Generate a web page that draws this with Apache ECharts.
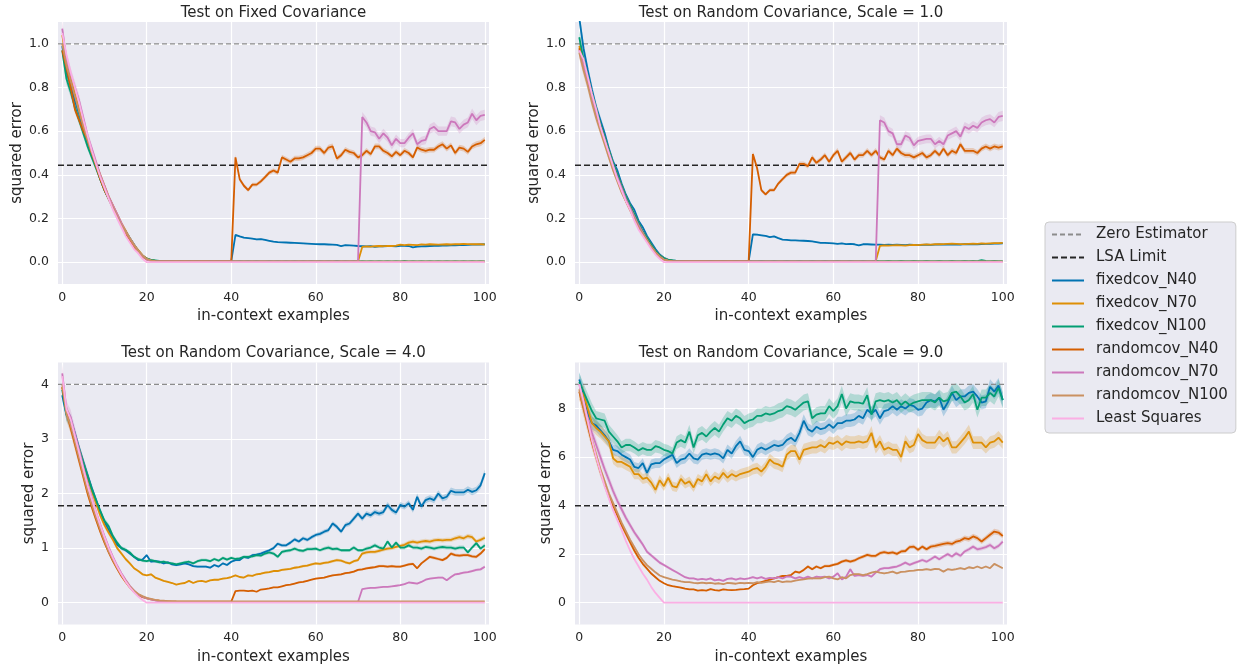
<!DOCTYPE html>
<html><head><meta charset="utf-8">
<script src="https://cdn.jsdelivr.net/npm/echarts@6/dist/echarts.min.js"></script>
<style>html,body{margin:0;padding:0;background:#fff;}#c{width:1242px;height:669px;}</style>
</head><body><div id="c"></div>
<script>
// ---------------- DATA ----------------
const examples = Array.from({length: 101}, (_, i) => i);
const xTicks = [0, 20, 40, 60, 80, 100];
const seriesNames = ['fixedcov_N40','fixedcov_N70','fixedcov_N100','randomcov_N40','randomcov_N70','randomcov_N100','Least Squares'];
const panelTitles = ['Test on Fixed Covariance','Test on Random Covariance, Scale = 1.0','Test on Random Covariance, Scale = 4.0','Test on Random Covariance, Scale = 9.0'];
const zeroEstimator = [1, 1, 4, 9];
const lsaLimit = [0.444, 0.444, 1.777, 4.0];

// Panel 1: Fixed Covariance
const p1_fc40 = [0.99,0.87,0.81,0.74,0.68,0.61,0.55,0.49,0.44,0.38,
0.33,0.29,0.25,0.21,0.17,0.14,0.11,0.08,0.05,0.03,
0.016,0.009,0.006,0.005,0.004,0.004,0.004,0.003,0.004,0.003,
0.003,0.004,0.003,0.003,0.003,0.004,0.003,0.003,0.003,0.003,
0.004,0.125,0.118,0.112,0.11,0.108,0.104,0.106,0.102,0.098,
0.094,0.092,0.091,0.09,0.089,0.088,0.087,0.086,0.085,0.084,
0.083,0.082,0.082,0.081,0.08,0.079,0.074,0.078,0.077,0.076,
0.074,0.073,0.072,0.073,0.07,0.072,0.073,0.074,0.074,0.072,
0.075,0.075,0.074,0.068,0.071,0.072,0.073,0.074,0.075,0.075,
0.076,0.076,0.077,0.077,0.078,0.078,0.079,0.08,0.08,0.081,
0.082];
const p1_fc70 = [1.04,0.93,0.85,0.77,0.70,0.63,0.56,0.50,0.45,0.40,
0.35,0.30,0.26,0.22,0.18,0.145,0.11,0.08,0.055,0.032,
0.017,0.01,0.007,0.005,0.004,0.004,0.003,0.003,0.004,0.003,
0.003,0.003,0.004,0.003,0.003,0.003,0.003,0.004,0.003,0.003,
0.003,0.003,0.003,0.004,0.003,0.003,0.003,0.003,0.004,0.003,
0.003,0.003,0.003,0.003,0.004,0.003,0.003,0.003,0.003,0.004,
0.003,0.003,0.003,0.003,0.003,0.004,0.003,0.003,0.003,0.003,
0.003,0.07,0.072,0.071,0.073,0.074,0.073,0.075,0.074,0.076,
0.08,0.078,0.08,0.079,0.078,0.081,0.08,0.082,0.081,0.08,
0.081,0.082,0.081,0.083,0.082,0.084,0.083,0.082,0.083,0.082,
0.081];
const p1_fc100 = [0.97,0.84,0.78,0.71,0.65,0.59,0.53,0.48,0.43,0.38,
0.33,0.29,0.25,0.21,0.17,0.14,0.11,0.08,0.05,0.03,
0.016,0.01,0.008,0.006,0.005,0.005,0.005,0.004,0.005,0.004,
0.005,0.004,0.005,0.004,0.004,0.005,0.004,0.005,0.004,0.004,
0.005,0.004,0.005,0.004,0.005,0.004,0.005,0.004,0.004,0.005,
0.004,0.005,0.004,0.005,0.004,0.005,0.004,0.005,0.004,0.005,
0.004,0.005,0.004,0.005,0.004,0.006,0.004,0.005,0.004,0.005,
0.004,0.005,0.004,0.005,0.004,0.005,0.004,0.005,0.004,0.005,
0.004,0.006,0.004,0.005,0.004,0.005,0.004,0.005,0.004,0.005,
0.004,0.005,0.004,0.005,0.004,0.005,0.004,0.005,0.004,0.005,
0.004];
const p1_rc40 = [0.97,0.89,0.80,0.70,0.65,0.60,0.56,0.50,0.44,0.38,
0.33,0.29,0.25,0.21,0.17,0.13,0.10,0.07,0.045,0.025,
0.012,0.007,0.005,0.004,0.004,0.003,0.003,0.003,0.003,0.003,
0.003,0.003,0.003,0.003,0.003,0.003,0.003,0.003,0.003,0.003,
0.003,0.48,0.38,0.35,0.33,0.355,0.355,0.37,0.39,0.41,
0.42,0.41,0.48,0.47,0.46,0.475,0.475,0.48,0.49,0.50,
0.52,0.52,0.50,0.525,0.53,0.475,0.49,0.515,0.505,0.50,
0.48,0.49,0.51,0.495,0.53,0.53,0.51,0.50,0.485,0.505,
0.49,0.51,0.50,0.48,0.525,0.515,0.51,0.515,0.515,0.53,
0.54,0.52,0.535,0.50,0.525,0.52,0.505,0.53,0.54,0.545,
0.56];
const p1_rc70 = [1.07,0.93,0.86,0.80,0.74,0.66,0.58,0.52,0.46,0.40,
0.35,0.30,0.26,0.22,0.18,0.14,0.11,0.08,0.05,0.03,
0.012,0.006,0.004,0.003,0.003,0.003,0.003,0.003,0.003,0.003,
0.003,0.003,0.003,0.003,0.003,0.003,0.003,0.003,0.003,0.003,
0.003,0.003,0.003,0.003,0.003,0.003,0.003,0.003,0.003,0.003,
0.003,0.003,0.003,0.003,0.003,0.003,0.003,0.003,0.003,0.003,
0.003,0.003,0.003,0.003,0.003,0.003,0.003,0.003,0.003,0.003,
0.003,0.665,0.64,0.60,0.595,0.565,0.59,0.57,0.535,0.565,
0.545,0.545,0.57,0.59,0.54,0.555,0.56,0.61,0.62,0.60,
0.60,0.60,0.645,0.64,0.61,0.63,0.64,0.68,0.65,0.67,
0.675];
const p1_rc100 = [1.0,0.9,0.83,0.76,0.69,0.62,0.56,0.50,0.45,0.39,
0.34,0.29,0.25,0.21,0.17,0.14,0.11,0.08,0.05,0.03,
0.015,0.008,0.005,0.004,0.003,0.003,0.003,0.003,0.003,0.003,
0.003,0.003,0.003,0.003,0.003,0.003,0.003,0.003,0.003,0.003,
0.003,0.003,0.003,0.003,0.003,0.003,0.003,0.003,0.003,0.003,
0.003,0.003,0.003,0.003,0.003,0.003,0.003,0.003,0.003,0.003,
0.003,0.003,0.003,0.003,0.003,0.003,0.003,0.003,0.003,0.003,
0.003,0.003,0.003,0.003,0.003,0.003,0.003,0.003,0.003,0.003,
0.003,0.003,0.003,0.003,0.003,0.003,0.003,0.003,0.003,0.003,
0.003,0.003,0.003,0.003,0.003,0.003,0.003,0.003,0.003,0.003,
0.003];
const p1_ls = [1.05,0.95,0.87,0.80,0.73,0.65,0.58,0.51,0.45,0.39,
0.34,0.29,0.24,0.20,0.16,0.12,0.09,0.06,0.04,0.015,
0,0,0,0,0,0,0,0,0,0, 0,0,0,0,0,0,0,0,0,0,
0,0,0,0,0,0,0,0,0,0, 0,0,0,0,0,0,0,0,0,0,
0,0,0,0,0,0,0,0,0,0, 0,0,0,0,0,0,0,0,0,0,
0,0,0,0,0,0,0,0,0,0, 0,0,0,0,0,0,0,0,0,0,
0];

// Panel 2: Random Covariance, scale 1
const p2_fc40 = [1.12,0.98,0.88,0.79,0.71,0.65,0.59,0.52,0.46,0.42,
0.36,0.31,0.27,0.24,0.19,0.16,0.12,0.09,0.06,0.035,
0.02,0.012,0.008,0.006,0.005,0.005,0.004,0.004,0.004,0.004,
0.004,0.004,0.004,0.004,0.004,0.004,0.004,0.004,0.004,0.004,
0.004,0.127,0.126,0.123,0.12,0.115,0.118,0.11,0.103,0.102,
0.1,0.1,0.099,0.098,0.097,0.095,0.092,0.088,0.088,0.087,
0.086,0.084,0.086,0.083,0.084,0.082,0.077,0.082,0.082,0.081,
0.08,0.08,0.079,0.08,0.079,0.08,0.079,0.078,0.08,0.079,
0.078,0.079,0.08,0.079,0.08,0.081,0.08,0.081,0.082,0.081,
0.08,0.083,0.082,0.083,0.082,0.083,0.084,0.084,0.085,0.085,
0.086];
const p2_fc70 = [0.99,0.92,0.85,0.77,0.70,0.63,0.57,0.51,0.45,0.40,
0.35,0.30,0.26,0.22,0.18,0.14,0.11,0.08,0.05,0.03,
0.018,0.01,0.007,0.005,0.004,0.004,0.004,0.004,0.004,0.004,
0.004,0.004,0.004,0.004,0.004,0.004,0.004,0.004,0.004,0.004,
0.004,0.004,0.004,0.004,0.004,0.004,0.004,0.004,0.004,0.004,
0.004,0.004,0.004,0.004,0.004,0.004,0.004,0.004,0.004,0.004,
0.004,0.004,0.004,0.004,0.004,0.004,0.004,0.004,0.004,0.004,
0.004,0.075,0.077,0.076,0.077,0.078,0.077,0.076,0.078,0.079,
0.078,0.08,0.081,0.08,0.082,0.082,0.083,0.084,0.085,0.084,
0.083,0.083,0.084,0.085,0.084,0.086,0.085,0.086,0.087,0.087,
0.088];
const p2_fc100 = [1.03,0.93,0.85,0.77,0.70,0.63,0.57,0.51,0.45,0.40,
0.35,0.30,0.26,0.22,0.18,0.14,0.11,0.08,0.05,0.03,
0.018,0.01,0.008,0.006,0.006,0.005,0.005,0.005,0.005,0.005,
0.005,0.006,0.005,0.005,0.006,0.005,0.005,0.006,0.005,0.005,
0.006,0.005,0.005,0.006,0.005,0.005,0.006,0.005,0.005,0.006,
0.005,0.005,0.006,0.005,0.005,0.006,0.005,0.005,0.006,0.005,
0.005,0.006,0.005,0.005,0.006,0.005,0.005,0.006,0.005,0.005,
0.006,0.005,0.005,0.006,0.005,0.005,0.006,0.005,0.005,0.006,
0.005,0.005,0.006,0.005,0.005,0.006,0.005,0.005,0.006,0.005,
0.005,0.006,0.005,0.006,0.005,0.009,0.006,0.005,0.006,0.005,
0.005];
const p2_rc40 = [0.98,0.90,0.83,0.75,0.67,0.61,0.55,0.49,0.43,0.38,
0.33,0.28,0.24,0.20,0.16,0.13,0.10,0.07,0.045,0.025,
0.012,0.007,0.005,0.004,0.004,0.003,0.003,0.003,0.003,0.003,
0.003,0.003,0.003,0.003,0.003,0.003,0.003,0.003,0.003,0.003,
0.003,0.495,0.43,0.33,0.31,0.33,0.33,0.36,0.38,0.40,
0.41,0.41,0.45,0.45,0.44,0.48,0.455,0.47,0.49,0.46,
0.49,0.51,0.46,0.48,0.50,0.47,0.49,0.49,0.51,0.49,
0.51,0.48,0.47,0.51,0.49,0.52,0.50,0.49,0.49,0.48,
0.49,0.50,0.48,0.49,0.51,0.49,0.52,0.49,0.51,0.50,
0.54,0.51,0.51,0.51,0.50,0.52,0.53,0.52,0.53,0.525,
0.53];
const p2_rc70 = [0.97,0.90,0.83,0.75,0.68,0.62,0.56,0.50,0.44,0.39,
0.34,0.29,0.25,0.21,0.17,0.135,0.10,0.07,0.045,0.025,
0.012,0.006,0.004,0.003,0.003,0.003,0.003,0.003,0.003,0.003,
0.003,0.003,0.003,0.003,0.003,0.003,0.003,0.003,0.003,0.003,
0.003,0.003,0.003,0.003,0.003,0.003,0.003,0.003,0.003,0.003,
0.003,0.003,0.003,0.003,0.003,0.003,0.003,0.003,0.003,0.003,
0.003,0.003,0.003,0.003,0.003,0.003,0.003,0.003,0.003,0.003,
0.003,0.65,0.64,0.60,0.59,0.54,0.54,0.58,0.57,0.535,
0.555,0.56,0.565,0.565,0.54,0.555,0.54,0.58,0.59,0.60,
0.575,0.62,0.61,0.625,0.615,0.64,0.65,0.655,0.64,0.665,
0.67];
const p2_rc100 = [0.96,0.88,0.81,0.73,0.66,0.60,0.54,0.48,0.42,0.37,
0.32,0.28,0.24,0.20,0.16,0.13,0.10,0.07,0.045,0.025,
0.012,0.007,0.005,0.004,0.003,0.003,0.003,0.003,0.003,0.003,
0.003,0.003,0.003,0.003,0.003,0.003,0.003,0.003,0.003,0.003,
0.003,0.003,0.003,0.003,0.003,0.003,0.003,0.003,0.003,0.003,
0.003,0.003,0.003,0.003,0.003,0.003,0.003,0.003,0.003,0.003,
0.003,0.003,0.003,0.003,0.003,0.003,0.003,0.003,0.003,0.003,
0.003,0.003,0.003,0.003,0.003,0.003,0.003,0.003,0.003,0.003,
0.003,0.003,0.003,0.003,0.003,0.003,0.003,0.003,0.003,0.003,
0.003,0.003,0.003,0.003,0.003,0.003,0.003,0.003,0.003,0.003,
0.003];
const p2_ls = [0.97,0.93,0.85,0.77,0.70,0.62,0.56,0.50,0.44,0.38,
0.33,0.28,0.24,0.19,0.15,0.12,0.09,0.06,0.035,0.015,
0,0,0,0,0,0,0,0,0,0, 0,0,0,0,0,0,0,0,0,0,
0,0,0,0,0,0,0,0,0,0, 0,0,0,0,0,0,0,0,0,0,
0,0,0,0,0,0,0,0,0,0, 0,0,0,0,0,0,0,0,0,0,
0,0,0,0,0,0,0,0,0,0, 0,0,0,0,0,0,0,0,0,0,
0];

// Panel 3: Random Covariance, scale 4
const p3_fc40 = [3.8,3.44,3.35,3.1,2.83,2.58,2.34,2.1,1.88,1.67,
1.48,1.33,1.18,1.06,1.0,0.96,0.9,0.84,0.78,0.79,
0.87,0.75,0.76,0.75,0.72,0.74,0.7,0.69,0.7,0.72,
0.7,0.67,0.66,0.66,0.66,0.64,0.69,0.66,0.72,0.69,
0.75,0.78,0.78,0.84,0.82,0.87,0.88,0.9,0.93,0.96,
1.0,1.08,1.05,1.05,1.1,1.16,1.12,1.18,1.15,1.2,
1.24,1.26,1.3,1.33,1.45,1.39,1.3,1.42,1.45,1.54,
1.63,1.54,1.63,1.6,1.66,1.63,1.66,1.79,1.7,1.65,
1.79,1.76,1.82,1.7,1.94,1.76,1.88,1.91,1.88,2.0,
1.91,1.94,2.05,2.02,2.02,2.02,2.07,2.03,2.06,2.15,
2.37];
const p3_fc70 = [3.95,3.5,3.3,3.05,2.8,2.55,2.3,2.05,1.82,1.6,
1.42,1.28,1.15,1.0,0.9,0.8,0.72,0.63,0.58,0.52,
0.5,0.52,0.46,0.43,0.4,0.38,0.36,0.33,0.35,0.36,
0.4,0.36,0.39,0.4,0.38,0.41,0.42,0.42,0.44,0.45,
0.47,0.5,0.47,0.46,0.5,0.49,0.52,0.53,0.55,0.56,
0.58,0.58,0.6,0.61,0.62,0.64,0.65,0.67,0.68,0.7,
0.72,0.71,0.73,0.74,0.76,0.78,0.77,0.74,0.72,0.76,
0.78,0.9,0.92,0.93,0.93,0.95,0.97,0.99,1.0,1.02,
1.04,1.06,1.1,1.12,1.1,1.12,1.13,1.12,1.14,1.15,
1.14,1.15,1.15,1.18,1.2,1.18,1.22,1.2,1.12,1.15,
1.19];
const p3_fc100 = [3.9,3.45,3.3,3.05,2.8,2.56,2.32,2.08,1.88,1.68,
1.5,1.4,1.22,1.1,1.0,0.97,0.92,0.84,0.8,0.77,
0.76,0.78,0.76,0.74,0.75,0.73,0.72,0.7,0.72,0.74,
0.75,0.72,0.76,0.78,0.78,0.76,0.8,0.77,0.82,0.79,
0.82,0.8,0.81,0.84,0.84,0.85,0.87,0.86,0.9,0.92,
0.9,0.84,0.93,0.95,0.96,0.99,0.96,0.95,0.98,0.98,
0.99,0.96,0.99,1.01,0.98,0.99,0.96,0.96,0.96,1.01,
0.96,0.96,0.99,1.01,1.05,1.01,0.99,1.12,1.01,1.1,
1.01,1.01,1.05,1.01,1.01,0.99,1.02,1.01,0.99,1.01,
1.02,1.01,1.01,0.99,1.01,1.01,0.92,1.01,1.09,0.99,
1.05];
const p3_rc40 = [3.95,3.5,3.2,2.9,2.6,2.3,2.0,1.75,1.52,1.3,
1.1,0.92,0.76,0.62,0.49,0.38,0.28,0.2,0.14,0.1,
0.08,0.06,0.045,0.035,0.03,0.025,0.02,0.02,0.02,0.02,
0.02,0.02,0.02,0.02,0.02,0.02,0.02,0.02,0.02,0.02,
0.02,0.21,0.22,0.22,0.21,0.22,0.2,0.24,0.25,0.26,
0.28,0.28,0.3,0.32,0.33,0.35,0.37,0.38,0.4,0.42,
0.44,0.45,0.46,0.48,0.5,0.51,0.52,0.54,0.55,0.57,
0.6,0.61,0.63,0.64,0.65,0.67,0.67,0.66,0.67,0.66,
0.66,0.68,0.7,0.71,0.63,0.72,0.78,0.84,0.82,0.8,
0.78,0.82,0.9,0.87,0.86,0.87,0.87,0.85,0.84,0.9,
0.98];
const p3_rc70 = [4.2,3.55,3.4,3.1,2.8,2.48,2.18,1.92,1.66,1.43,
1.22,1.02,0.84,0.68,0.54,0.42,0.31,0.22,0.15,0.11,
0.08,0.06,0.04,0.03,0.025,0.02,0.015,0.012,0.012,0.012,
0.012,0.011,0.012,0.012,0.011,0.012,0.012,0.011,0.012,0.012,
0.011,0.012,0.012,0.011,0.012,0.012,0.011,0.012,0.012,0.011,
0.012,0.012,0.011,0.012,0.012,0.011,0.012,0.012,0.011,0.012,
0.012,0.011,0.012,0.012,0.011,0.012,0.012,0.011,0.012,0.012,
0.012,0.25,0.26,0.27,0.27,0.28,0.29,0.29,0.3,0.31,
0.32,0.34,0.37,0.36,0.35,0.38,0.42,0.44,0.45,0.46,
0.46,0.41,0.47,0.52,0.53,0.55,0.56,0.58,0.6,0.61,
0.66];
const p3_rc100 = [4.0,3.45,3.25,2.95,2.65,2.35,2.05,1.8,1.56,1.34,
1.13,0.94,0.78,0.64,0.51,0.4,0.3,0.22,0.16,0.12,
0.09,0.07,0.05,0.04,0.035,0.03,0.028,0.026,0.025,0.025,
0.025,0.024,0.025,0.025,0.024,0.025,0.025,0.024,0.025,0.025,
0.024,0.025,0.025,0.024,0.025,0.025,0.024,0.025,0.025,0.024,
0.025,0.025,0.024,0.025,0.025,0.024,0.025,0.025,0.024,0.025,
0.025,0.024,0.025,0.025,0.024,0.025,0.025,0.024,0.025,0.025,
0.025,0.024,0.025,0.025,0.024,0.025,0.025,0.024,0.025,0.025,
0.024,0.025,0.025,0.024,0.025,0.025,0.024,0.025,0.025,0.024,
0.025,0.025,0.024,0.025,0.025,0.024,0.025,0.025,0.024,0.025,
0.025];
const p3_ls = [4.15,3.55,3.35,3.05,2.75,2.45,2.15,1.9,1.65,1.42,
1.2,1.0,0.82,0.66,0.52,0.39,0.28,0.19,0.11,0.05,
0,0,0,0,0,0,0,0,0,0, 0,0,0,0,0,0,0,0,0,0,
0,0,0,0,0,0,0,0,0,0, 0,0,0,0,0,0,0,0,0,0,
0,0,0,0,0,0,0,0,0,0, 0,0,0,0,0,0,0,0,0,0,
0,0,0,0,0,0,0,0,0,0, 0,0,0,0,0,0,0,0,0,0,
0];

// Panel 4: Random Covariance, scale 9
const p4_fc40 = [9.2,8.6,7.8,7.4,7.3,7.1,6.9,6.65,6.3,6.25,
6.1,6.0,5.9,5.6,5.55,5.75,5.35,5.7,5.75,5.75,
5.9,6.0,6.1,5.75,5.9,5.95,6.15,5.95,5.9,6.1,
6.15,6.1,6.15,6.1,5.95,6.3,6.15,6.45,6.65,6.3,
6.25,6.0,6.3,6.4,6.3,6.4,6.5,6.45,6.5,6.7,
6.8,6.65,7.0,7.5,7.15,7.05,7.25,7.15,7.2,7.35,
7.2,7.4,7.4,7.5,7.5,7.55,7.7,7.6,7.95,7.8,
7.95,7.6,7.9,7.95,8.1,7.95,8.1,8.0,8.15,8.1,
7.95,8.0,8.25,8.35,8.3,8.45,7.95,8.25,8.65,8.35,
8.5,8.5,8.65,8.7,8.5,8.25,8.3,8.9,8.7,8.95,
8.35];
const p4_fc70 = [8.7,8.6,8.0,7.4,7.2,7.05,6.85,6.65,5.95,5.8,
5.8,5.7,5.6,5.3,5.3,5.1,5.15,4.95,4.65,5.05,
4.8,5.15,4.8,4.75,5.1,4.9,5.0,4.75,5.1,5.0,
5.3,5.0,5.2,5.1,5.35,5.15,5.3,5.2,5.3,5.35,
5.4,5.5,5.55,5.4,5.6,5.9,5.75,5.7,5.6,6.1,
6.25,6.25,5.9,6.3,6.35,6.4,6.4,6.5,6.4,6.6,
6.55,6.65,6.5,6.65,6.6,6.6,6.65,6.6,6.65,7.0,
6.4,6.65,6.3,6.4,6.3,6.3,6.0,6.65,6.4,6.5,
6.95,6.7,6.6,6.6,6.6,6.85,6.65,6.8,6.4,6.4,
6.6,6.8,7.05,6.6,6.6,6.6,6.4,6.6,6.65,6.8,
6.6];
const p4_fc100 = [9.1,8.7,8.3,7.9,7.6,7.55,7.5,7.05,6.85,6.65,
6.4,6.5,6.5,6.4,6.27,6.37,6.3,6.3,6.45,6.4,
6.3,6.25,6.15,6.6,6.7,6.6,7.05,6.4,6.9,7.0,
6.85,7.05,7.2,7.05,7.35,7.6,7.5,7.7,7.6,7.4,
7.5,7.55,7.7,7.7,7.8,7.75,7.8,7.9,7.95,8.1,
8.05,7.95,8.1,8.25,8.3,7.6,7.75,7.8,7.8,8.1,
7.9,8.1,8.6,8.0,8.3,8.25,8.25,8.2,8.55,7.75,
8.3,8.35,8.3,8.35,8.25,8.35,8.15,8.3,8.15,8.25,
8.3,8.35,8.35,8.35,8.25,8.45,8.3,8.35,8.65,8.7,
8.5,8.25,8.35,8.6,7.95,8.45,8.45,8.65,8.5,8.85,
8.35];
const p4_rc40 = [8.7,8.0,7.3,6.6,6.0,5.4,4.9,4.4,4.0,3.6,
3.2,2.85,2.5,2.15,1.85,1.6,1.4,1.2,1.05,0.9,
0.8,0.72,0.68,0.65,0.62,0.58,0.55,0.55,0.5,0.52,
0.5,0.56,0.52,0.5,0.55,0.53,0.52,0.53,0.55,0.56,
0.58,0.72,0.8,0.85,0.9,0.95,1.0,1.05,1.1,1.1,
1.14,1.28,1.24,1.35,1.49,1.38,1.49,1.42,1.51,1.51,
1.56,1.6,1.69,1.74,1.69,1.74,1.83,1.9,1.97,1.93,
1.93,2.04,2.08,2.04,2.07,2.01,2.11,2.13,2.29,2.31,
2.18,2.31,2.2,2.31,2.34,2.38,2.42,2.45,2.42,2.52,
2.56,2.66,2.62,2.73,2.66,2.52,2.66,2.8,2.93,2.89,
2.75];
const p4_rc70 = [9.0,8.3,7.6,7.0,6.5,6.0,5.5,5.05,4.6,4.2,
3.85,3.5,3.2,2.9,2.65,2.4,2.1,1.95,1.8,1.65,
1.55,1.45,1.35,1.25,1.15,1.05,1.0,1.0,0.95,0.98,
0.95,1.0,0.92,0.95,0.9,0.98,1.0,0.95,1.0,0.97,
1.0,1.05,1.0,1.05,0.98,1.02,1.0,1.05,1.0,1.08,
1.07,1.0,1.05,1.0,1.07,1.0,1.07,1.05,1.07,1.0,
1.07,1.21,0.96,1.07,1.38,1.1,1.14,1.1,1.14,1.07,
1.24,1.38,1.42,1.42,1.46,1.49,1.56,1.65,1.56,1.63,
1.69,1.76,1.69,1.79,1.9,1.79,1.9,2.0,1.9,2.04,
1.93,2.11,2.2,2.31,2.2,2.24,2.29,2.38,2.24,2.34,
2.52];
const p4_rc100 = [8.8,8.1,7.4,6.7,6.1,5.5,5.0,4.5,4.1,3.7,
3.3,2.95,2.6,2.3,2.0,1.75,1.55,1.4,1.25,1.12,
1.05,1.0,0.95,0.92,0.88,0.85,0.85,0.82,0.8,0.83,
0.8,0.82,0.78,0.8,0.76,0.82,0.8,0.78,0.82,0.8,
0.82,0.8,0.85,0.82,0.85,0.88,0.85,0.9,0.85,0.88,
0.87,0.91,0.94,0.96,0.99,1.0,1.0,1.0,1.05,1.07,
1.0,0.96,1.05,1.0,1.14,1.18,1.18,1.14,1.18,1.24,
1.28,1.24,1.21,1.24,1.28,1.21,1.27,1.28,1.31,1.32,
1.35,1.35,1.38,1.35,1.39,1.38,1.28,1.38,1.35,1.38,
1.42,1.38,1.46,1.42,1.49,1.42,1.49,1.42,1.6,1.51,
1.42];
const p4_ls = [9.0,8.3,7.5,6.7,6.0,5.4,4.8,4.3,3.8,3.4,
3.0,2.55,2.15,1.8,1.5,1.2,0.95,0.65,0.4,0.2,
0,0,0,0,0,0,0,0,0,0, 0,0,0,0,0,0,0,0,0,0,
0,0,0,0,0,0,0,0,0,0, 0,0,0,0,0,0,0,0,0,0,
0,0,0,0,0,0,0,0,0,0, 0,0,0,0,0,0,0,0,0,0,
0,0,0,0,0,0,0,0,0,0, 0,0,0,0,0,0,0,0,0,0,
0];

// relative half-width of the shaded confidence band, per series
const band_p1 = [0.03, 0.03, 0.03, 0.025, 0.035, 0.03, 0];
const band_p2 = [0.03, 0.03, 0.03, 0.025, 0.035, 0.03, 0];
const band_p3 = [0.03, 0.035, 0.035, 0.035, 0.04, 0.04, 0];
const band_p4 = [0.035, 0.04, 0.04, 0.04, 0.04, 0.03, 0];

// ---------------- CHART ----------------
const panelData = [
  [p1_fc40, p1_fc70, p1_fc100, p1_rc40, p1_rc70, p1_rc100, p1_ls],
  [p2_fc40, p2_fc70, p2_fc100, p2_rc40, p2_rc70, p2_rc100, p2_ls],
  [p3_fc40, p3_fc70, p3_fc100, p3_rc40, p3_rc70, p3_rc100, p3_ls],
  [p4_fc40, p4_fc70, p4_fc100, p4_rc40, p4_rc70, p4_rc100, p4_ls]
];
const panelBands = [band_p1, band_p2, band_p3, band_p4];
const colors = ['#0173b2','#de8f05','#029e73','#d55e00','#cc78bc','#ca9161','#fbafe4'];
const FONT = 'DejaVu Sans';
const TXT = '#262626';
const grids = [
  {left: 58, top: 22, width: 431, height: 262},
  {left: 575, top: 22, width: 432, height: 262},
  {left: 58, top: 362.5, width: 431, height: 262},
  {left: 575, top: 362.5, width: 432, height: 262}
];
const yRange = [[-0.1, 1.1], [-0.1, 1.1], [-0.4, 4.4], [-0.9, 9.9]];
const yStep = [0.2, 0.2, 1, 2];
const yNameGap = [33, 33, 21, 21];

function rgba(hex, a) {
  const n = parseInt(hex.slice(1), 16);
  return 'rgba(' + (n >> 16 & 255) + ',' + (n >> 8 & 255) + ',' + (n & 255) + ',' + a + ')';
}

const xAxes = [], yAxes = [], series = [], graphics = [];
grids.forEach((g, p) => {
  xAxes.push({
    type: 'value', gridIndex: p, min: -1, max: 101, position: 'bottom',
    name: 'in-context examples', nameLocation: 'middle', nameGap: 25,
    nameTextStyle: {fontFamily: FONT, fontSize: 15, color: TXT},
    axisLine: {show: false, onZero: false}, axisTick: {show: false},
    axisLabel: {fontFamily: FONT, fontSize: 12.5, color: TXT, margin: 7,
      formatter: v => (xTicks.indexOf(Math.round(v)) >= 0 && Math.abs(v - Math.round(v)) < 1e-6) ? String(Math.round(v)) : ''},
    splitLine: {show: true, showMinLine: false, showMaxLine: false, lineStyle: {color: '#ffffff', width: 1.2}}
  });
  const st = yStep[p];
  yAxes.push({
    type: 'value', gridIndex: p, min: yRange[p][0], max: yRange[p][1], position: 'left',
    name: 'squared error', nameLocation: 'middle', nameGap: yNameGap[p], nameRotate: 90,
    nameTextStyle: {fontFamily: FONT, fontSize: 15, color: TXT},
    axisLine: {show: false, onZero: false}, axisTick: {show: false},
    axisLabel: {fontFamily: FONT, fontSize: 12.5, color: TXT, margin: 9,
      formatter: v => {
        const r = Math.round(v / st);
        if (Math.abs(v - r * st) > 1e-6 || v < -1e-6) return '';
        return st < 1 ? (r * st).toFixed(1) : String(r * st);
      }},
    splitLine: {show: true, showMinLine: false, showMaxLine: false, lineStyle: {color: '#ffffff', width: 1.2}}
  });
  graphics.push({
    type: 'text', x: g.left + g.width / 2, y: g.top - 9,
    style: {text: panelTitles[p], fontFamily: FONT, fontSize: 15, fill: TXT, align: 'center', verticalAlign: 'middle'}
  });

  // confidence bands
  panelData[p].forEach((arr, s) => {
    const k = panelBands[p][s];
    if (!(k > 0)) return;
    const lo = arr.map(v => v * (1 - k));
    const hi = arr.map(v => v * (1 + k));
    series.push({
      type: 'custom', xAxisIndex: p, yAxisIndex: p, z: 1, silent: true, clip: true,
      data: [[0, 0]],
      renderItem: (params, api) => {
        const pts = [];
        for (let i = 0; i < examples.length; i++) pts.push(api.coord([examples[i], lo[i]]));
        for (let i = examples.length - 1; i >= 0; i--) pts.push(api.coord([examples[i], hi[i]]));
        return {type: 'polygon', shape: {points: pts}, style: {fill: rgba(colors[s], 0.24), stroke: null}};
      }
    });
  });

  // reference lines
  series.push({
    name: 'Zero Estimator', type: 'line', xAxisIndex: p, yAxisIndex: p, z: 2,
    data: [[-1, zeroEstimator[p]], [101, zeroEstimator[p]]], symbol: 'none',
    lineStyle: {color: '#8c8c8c', width: 1.3, type: [5, 3]}, itemStyle: {color: '#8c8c8c'}
  });
  series.push({
    name: 'LSA Limit', type: 'line', xAxisIndex: p, yAxisIndex: p, z: 2,
    data: [[-1, lsaLimit[p]], [101, lsaLimit[p]]], symbol: 'none',
    lineStyle: {color: '#262626', width: 1.5, type: [6, 3]}, itemStyle: {color: '#262626'}
  });

  // main lines
  panelData[p].forEach((arr, s) => {
    series.push({
      name: seriesNames[s], type: 'line', xAxisIndex: p, yAxisIndex: p, z: 3 + s * 0.01,
      data: examples.map((x, i) => [x, arr[i]]), symbol: 'none', clip: true,
      lineStyle: {color: colors[s], width: 1.8}, itemStyle: {color: colors[s]}
    });
  });
});

const chart = echarts.init(document.getElementById('c'), null, {renderer: 'canvas'});
chart.setOption({
  animation: false,
  backgroundColor: '#ffffff',
  textStyle: {fontFamily: FONT},
  grid: grids.map(g => Object.assign({backgroundColor: '#eaeaf2', show: true, borderWidth: 0}, g)),
  xAxis: xAxes,
  yAxis: yAxes,
  graphic: graphics,
  legend: {
    orient: 'vertical', left: 1045, top: 222,
    data: ['Zero Estimator', 'LSA Limit'].concat(seriesNames),
    itemWidth: 32, itemHeight: 14, itemGap: 8,
    padding: [5, 8, 7, 6],
    backgroundColor: '#eaeaf2', borderColor: '#cccccc', borderWidth: 1, borderRadius: 4,
    selectedMode: false,
    itemStyle: {opacity: 0},
    textStyle: {fontFamily: FONT, fontSize: 15, color: TXT, padding: [0, 0, 0, 7]}
  },
  series: series
});
</script>
</body></html>
